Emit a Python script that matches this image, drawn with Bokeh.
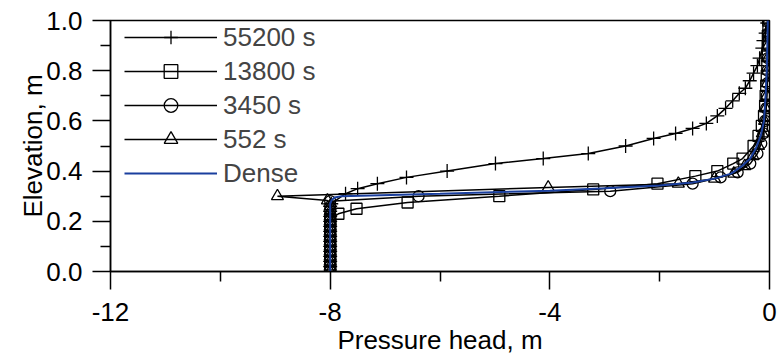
from bokeh.plotting import figure
from bokeh.models import Range1d, FixedTicker, Legend, LegendItem
from bokeh.embed import file_html
from bokeh.resources import INLINE

# ---- data ----
x_55200 = [-8.0, -8.0, -8.0, -8.0, -8.0, -8.0, -8.0, -8.0, -8.0, -8.0, -8.0, -8.0, -8.0, -8.0,
           -7.98, -7.72, -7.50, -7.14, -6.61, -5.87, -4.99, -4.12, -3.30, -2.62, -2.11, -1.71,
           -1.40, -1.15, -0.95, -0.80, -0.67, -0.55, -0.44, -0.36, -0.29, -0.22, -0.18, -0.13,
           -0.11, -0.07, -0.04]
y_55200 = [0.00, 0.02, 0.04, 0.06, 0.08, 0.10, 0.12, 0.14, 0.16, 0.18, 0.20, 0.22, 0.24, 0.26,
           0.27, 0.31, 0.33, 0.35, 0.375, 0.40, 0.43, 0.45, 0.47, 0.50, 0.53, 0.55,
           0.57, 0.59, 0.62, 0.65, 0.68, 0.71, 0.73, 0.76, 0.79, 0.82, 0.85, 0.89,
           0.92, 0.95, 0.99]

x_13800 = [-8.0, -8.0, -8.0, -8.0, -8.0, -8.0, -8.0, -8.0, -8.0, -8.0, -8.0, -8.0,
           -7.85, -7.52, -6.59, -4.92, -3.21, -2.04, -1.35, -0.95, -0.66, -0.49, -0.29,
           -0.20, -0.14, -0.10, -0.08, -0.07, -0.06, -0.05, -0.04, -0.04, -0.03, -0.03,
           -0.02, -0.02]
y_13800 = [0.00, 0.02, 0.04, 0.06, 0.08, 0.10, 0.12, 0.14, 0.16, 0.18, 0.20, 0.21,
           0.23, 0.25, 0.275, 0.30, 0.327, 0.35, 0.38, 0.40, 0.43, 0.45, 0.50,
           0.54, 0.58, 0.62, 0.66, 0.70, 0.74, 0.78, 0.82, 0.86, 0.90, 0.94,
           0.98, 1.00]

x_3450 = [-8.0, -8.0, -8.0, -8.0, -8.0, -8.0, -8.0, -8.0, -8.0, -8.0, -8.0, -8.0, -8.0, -8.0, -8.0,
          -6.39, -2.90, -1.40, -0.89, -0.58, -0.35, -0.22, -0.15, -0.11, -0.08, -0.06,
          -0.05, -0.04, -0.035, -0.03, -0.025, -0.02, -0.02]
y_3450 = [0.00, 0.02, 0.04, 0.06, 0.08, 0.10, 0.12, 0.14, 0.16, 0.18, 0.20, 0.22, 0.24, 0.26, 0.28,
          0.30, 0.32, 0.35, 0.375, 0.395, 0.43, 0.47, 0.51, 0.55, 0.60, 0.65,
          0.70, 0.75, 0.80, 0.85, 0.90, 0.95, 1.00]

x_552 = [-8.0, -8.0, -8.0, -8.0, -8.0, -8.0, -8.0, -8.0, -8.0, -8.0, -8.0, -8.0, -8.0, -8.0, -8.05,
         -8.96, -4.03, -1.66, -1.00, -0.65, -0.45, -0.30, -0.20, -0.13, -0.09, -0.07,
         -0.05, -0.04, -0.035, -0.03, -0.025, -0.02, -0.02]
y_552 = [0.00, 0.02, 0.04, 0.06, 0.08, 0.10, 0.12, 0.14, 0.16, 0.18, 0.20, 0.22, 0.24, 0.26, 0.283,
         0.30, 0.335, 0.35, 0.37, 0.39, 0.42, 0.46, 0.50, 0.55, 0.60, 0.65,
         0.70, 0.75, 0.80, 0.85, 0.90, 0.95, 1.00]

x_dense = [-8.0, -8.0, -7.97, -7.92, -7.8, -6.0, -4.0, -3.0, -2.0, -1.4, -1.0, -0.7, -0.5,
           -0.35, -0.25, -0.16, -0.10, -0.07, -0.05, -0.04, -0.03]
y_dense = [0.00, 0.27, 0.285, 0.295, 0.30, 0.31, 0.322, 0.332, 0.343, 0.355, 0.37, 0.39, 0.42,
           0.45, 0.49, 0.54, 0.60, 0.70, 0.80, 0.90, 1.00]

series_labels = ["55200 s", "13800 s", "3450 s", "552 s", "Dense"]

x_ticks = [-12, -8, -4, 0]
x_tick_labels = ["-12", "-8", "-4", "0"]
x_minor = [-10, -6, -2]
y_ticks = [0.0, 0.2, 0.4, 0.6, 0.8, 1.0]
y_tick_labels = ["0.0", "0.2", "0.4", "0.6", "0.8", "1.0"]
y_minor = [0.1, 0.3, 0.5, 0.7, 0.9]

FONT = "Liberation Sans"
FS = "26px"

p = figure(frame_width=659, frame_height=251, output_backend="svg", toolbar_location=None,
           x_range=Range1d(-12, 0), y_range=Range1d(0, 1),
           min_border_left=110, min_border_top=20, min_border_right=9, min_border_bottom=88)
p.xgrid.visible = False
p.ygrid.visible = False
p.outline_line_color = "black"
p.outline_line_width = 1.5
p.background_fill_color = "white"

for ax in (p.xaxis[0], p.yaxis[0]):
    ax.axis_line_width = 1.5
    ax.major_tick_line_width = 1.5
    ax.minor_tick_line_width = 1.5
    ax.major_tick_in = 0
    ax.minor_tick_in = 0
    ax.major_tick_out = 18
    ax.minor_tick_out = 10
    ax.major_label_text_font = FONT
    ax.major_label_text_font_size = FS
    ax.major_label_text_color = "black"
    ax.axis_label_text_font = FONT
    ax.axis_label_text_font_size = FS
    ax.axis_label_text_font_style = "normal"
    ax.axis_label_text_color = "black"

p.xaxis.ticker = FixedTicker(ticks=x_ticks, minor_ticks=x_minor)
p.xaxis.major_label_overrides = dict(zip(x_ticks, x_tick_labels))
p.xaxis.major_label_standoff = 13
p.xaxis.axis_label = "Pressure head, m"
p.xaxis.axis_label_standoff = 1

p.yaxis.ticker = FixedTicker(ticks=y_ticks, minor_ticks=y_minor)
p.yaxis.major_label_standoff = 10
p.yaxis.major_label_overrides = dict(zip(y_ticks, y_tick_labels))
p.yaxis.axis_label = "Elevation, m"
p.yaxis.axis_label_standoff = -5

LW = 1.5
items = []
specs = [(x_55200, y_55200, "cross", 14), (x_13800, y_13800, "square", 11),
         (x_3450, y_3450, "circle", 11), (x_552, y_552, "triangle", 12)]
for (xs, ys, mk, ms), lab in zip(specs, series_labels[:4]):
    r1 = p.line(xs, ys, line_color="black", line_width=LW)
    r2 = p.scatter(xs, ys, marker=mk, size=ms, line_color="black", line_width=1.3, fill_alpha=0)
    items.append(LegendItem(label=lab, renderers=[r1, r2]))

rd = p.line(x_dense, y_dense, line_color="#1a3f9e", line_width=2)
items.append(LegendItem(label=series_labels[4], renderers=[rd]))

legend = Legend(items=items, location=(10, 77), margin=0, padding=4, spacing=0,
                glyph_width=93, glyph_height=34, label_height=34, label_standoff=6,
                label_text_font=FONT, label_text_font_size=FS,
                border_line_alpha=0, background_fill_alpha=0)
p.add_layout(legend, "center")

open("out.html", "w").write(file_html(p, INLINE))
